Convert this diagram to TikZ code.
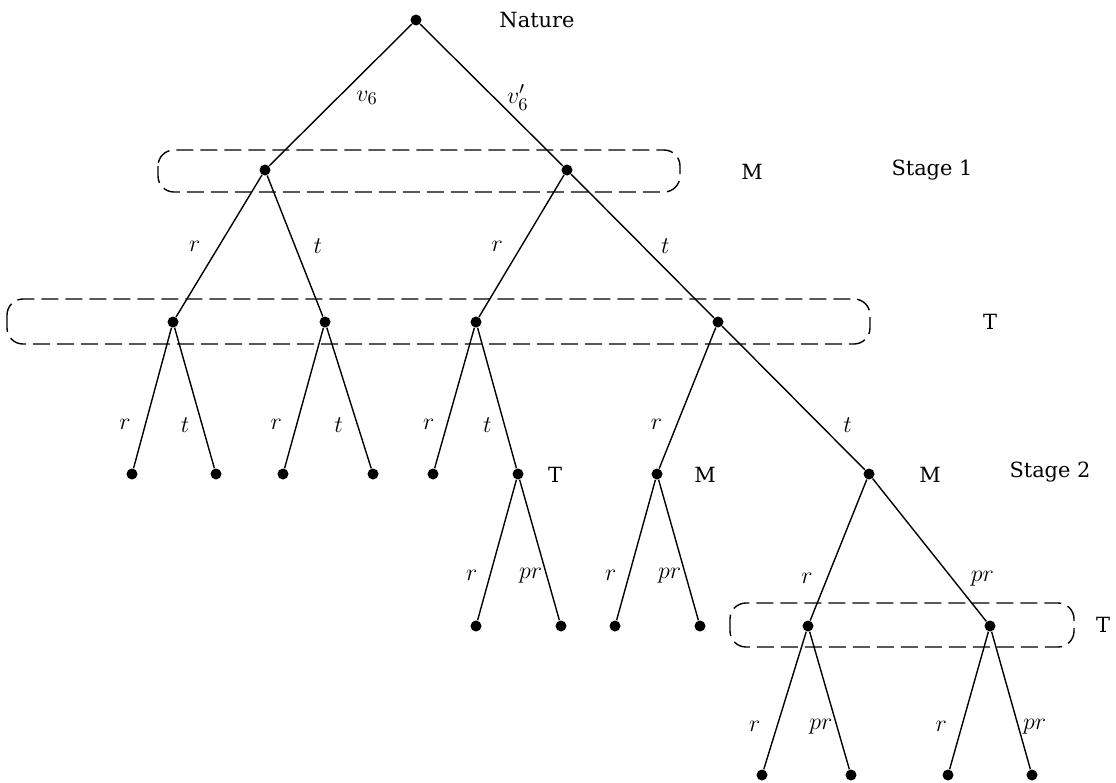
\documentclass[tikz,border=0pt]{standalone}
\usepackage{fontspec}
\setmainfont{DejaVu Serif}
\usepackage{tikz}
\usetikzlibrary{arrows,shapes}
\usepackage{amsmath,amssymb}

\begin{document}
\begin{tikzpicture}[scale=0.5,font=\fontsize{10.5}{12}\selectfont,
  dot/.style={circle,fill=black,inner sep=0pt,minimum size=5.5bp},
  lab/.style={inner sep=0pt,font=\fontsize{13}{15}\selectfont},
  infoset/.style={dash pattern=on 8.5bp off 3.5bp,rounded corners=8bp,line width=0.7pt}]
\useasboundingbox (0bp,0bp) rectangle (1116bp,-783bp);
\node (a) at (416bp,-20bp)[dot] {};
\node (b1) at (265bp,-170bp)[dot] {};
\node (b2) at (567bp,-170bp)[dot] {};
\node (c1) at (173bp,-322bp)[dot] {};
\node (c2) at (325bp,-322bp)[dot] {};
\node (c3) at (476bp,-322bp)[dot] {};
\node (c4) at (718bp,-322bp)[dot] {};
\node (d1) at (132bp,-474bp)[dot] {};
\node (d2) at (216bp,-474bp)[dot] {};
\node (d3) at (283bp,-474bp)[dot] {};
\node (d4) at (373bp,-474bp)[dot] {};
\node (d5) at (433bp,-474bp)[dot] {};
\node (d6) at (518bp,-474bp)[dot] {};
\node (d7) at (657bp,-474bp)[dot] {};
\node (d8) at (869bp,-474bp)[dot] {};
\node (e1) at (476bp,-626bp)[dot] {};
\node (e2) at (561bp,-626bp)[dot] {};
\node (e3) at (615bp,-626bp)[dot] {};
\node (e4) at (700bp,-626bp)[dot] {};
\node (e5) at (808bp,-626bp)[dot] {};
\node (e6) at (990bp,-626bp)[dot] {};
\node (f1) at (762bp,-775bp)[dot] {};
\node (f2) at (851bp,-775bp)[dot] {};
\node (f3) at (948bp,-775bp)[dot] {};
\node (f4) at (1032bp,-775bp)[dot] {};
% players and stages
\node (nature) at (537bp,-20bp) {Nature};
\node (pM1) at (752bp,-172bp) {M};
\node (stage1) at (932bp,-170bp) {Stage 1};
\node (pT1) at (990bp,-322bp) {T};
\node (pT2) at (555bp,-475bp) {T};
\node (pM2) at (705bp,-475bp) {M};
\node (pM3) at (930bp,-475bp) {M};
\node (stage2) at (1050bp,-472bp) {Stage 2};
\node (pT3) at (1103bp,-625bp) {T};
% information sets
\draw [infoset] (158bp,-150bp) rectangle (680bp,-192bp);
\draw [infoset] (7bp,-299bp) rectangle (870bp,-344bp);
\draw [infoset] (730bp,-603bp) rectangle (1074bp,-647bp);
% moves
\draw [line width=0.7pt] (a) -- node[lab,pos=0.52,right=9bp] {$v_6$} (b1);
\draw [line width=0.7pt] (a) -- node[lab,pos=0.52,right=6bp] {$v_6'$} (b2);
\draw [line width=0.7pt] (b1) -- node[lab,pos=0.5,left=9bp] {$r$} (c1);
\draw [line width=0.7pt] (b1) -- node[lab,pos=0.5,right=9bp] {$t$} (c2);
\draw [line width=0.7pt] (b2) -- node[lab,pos=0.5,left=9bp] {$r$} (c3);
\draw [line width=0.7pt] (b2) -- node[lab,pos=0.5,right=9bp] {$t$} (c4);
\draw [line width=0.7pt] (c1) -- node[lab,pos=0.69,left=7bp] {$r$} (d1);
\draw [line width=0.7pt] (c1) -- node[lab,pos=0.69,left=6bp] {$t$} (d2);
\draw [line width=0.7pt] (c2) -- node[lab,pos=0.69,left=7bp] {$r$} (d3);
\draw [line width=0.7pt] (c2) -- node[lab,pos=0.69,left=7bp] {$t$} (d4);
\draw [line width=0.7pt] (c3) -- node[lab,pos=0.69,left=6bp] {$r$} (d5);
\draw [line width=0.7pt] (c3) -- node[lab,pos=0.69,left=6bp] {$t$} (d6);
\draw [line width=0.7pt] (c4) -- node[lab,pos=0.69,left=7bp] {$r$} (d7);
\draw [line width=0.7pt] (c4) -- node[lab,pos=0.69,right=11bp] {$t$} (d8);
\draw [line width=0.7pt] (d6) -- node[lab,pos=0.68,left=6bp] {$r$} (e1);
\draw [line width=0.7pt] (d6) -- node[lab,pos=0.68,left=2bp] {$pr$} (e2);
\draw [line width=0.7pt] (d7) -- node[lab,pos=0.68,left=6bp] {$r$} (e3);
\draw [line width=0.7pt] (d7) -- node[lab,pos=0.68,left=2bp] {$pr$} (e4);
\draw [line width=0.7pt] (d8) -- node[lab,pos=0.7,left=7bp] {$r$} (e5);
\draw [line width=0.7pt] (d8) -- node[lab,pos=0.7,right=9bp] {$pr$} (e6);
\draw [line width=0.7pt] (e5) -- node[lab,pos=0.69,left=8bp] {$r$} (f1);
\draw [line width=0.7pt] (e5) -- node[lab,pos=0.69,left=2bp] {$pr$} (f2);
\draw [line width=0.7pt] (e6) -- node[lab,pos=0.69,left=7bp] {$r$} (f3);
\draw [line width=0.7pt] (e6) -- node[lab,pos=0.69,right=2bp] {$pr$} (f4);
\end{tikzpicture}
\end{document}
